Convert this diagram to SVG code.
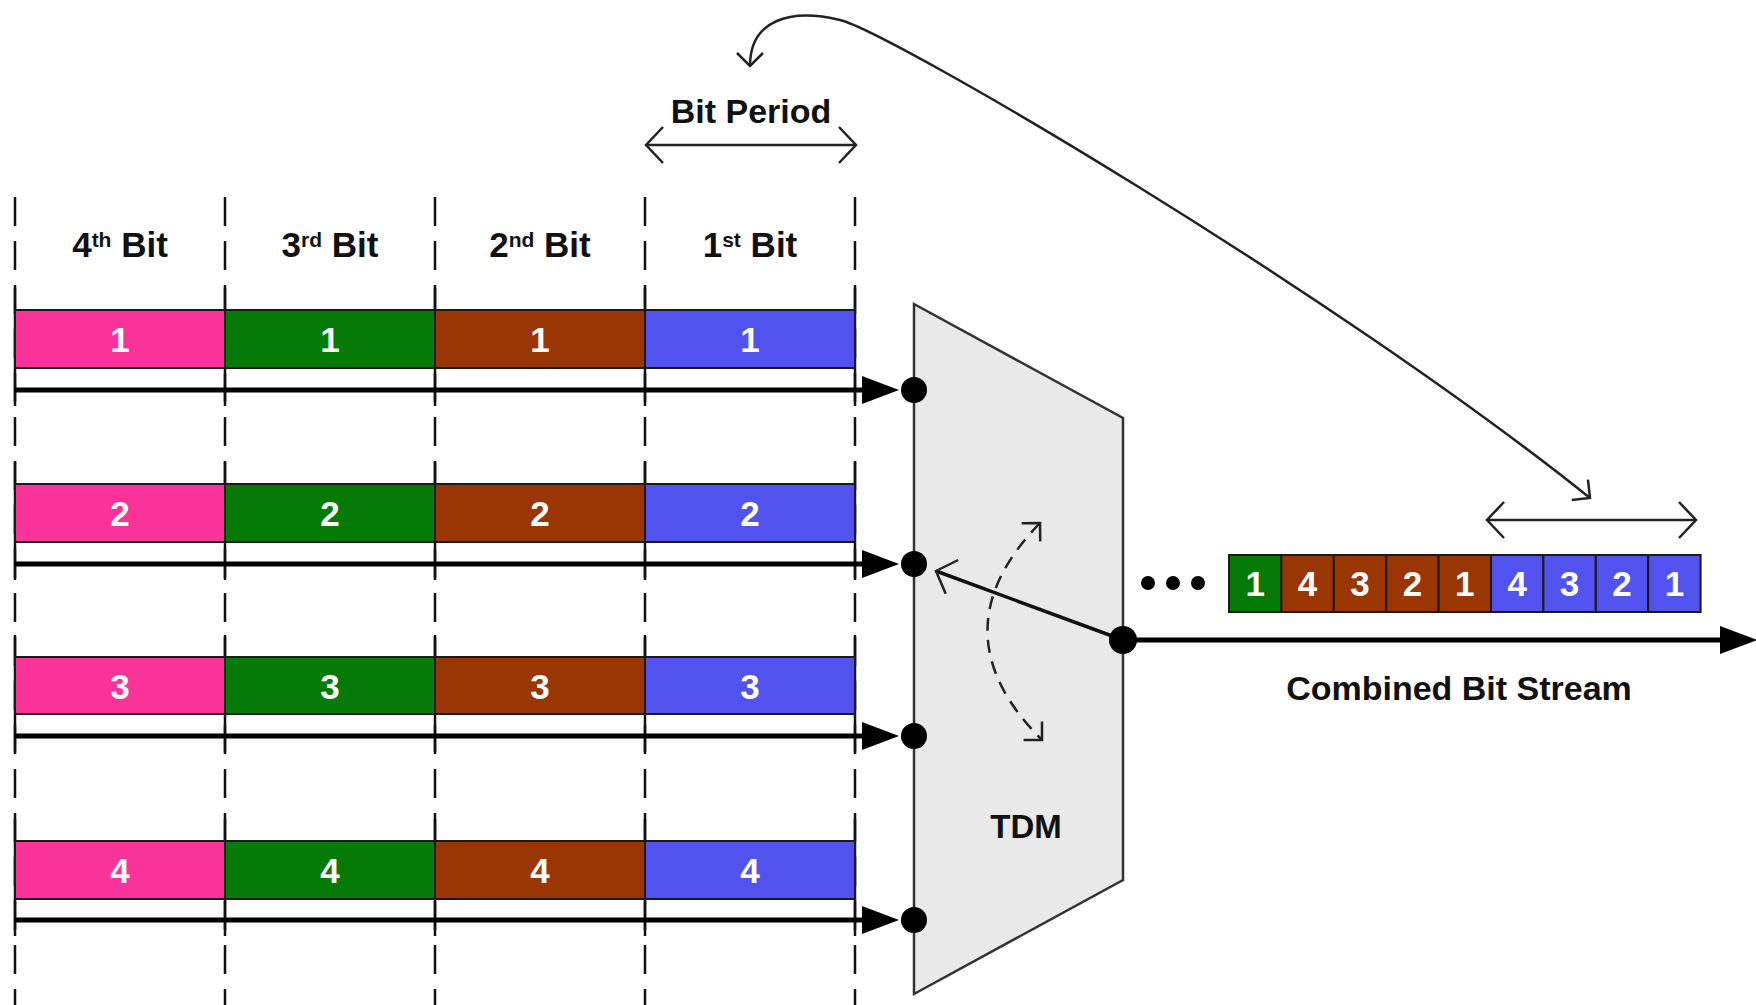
<svg xmlns="http://www.w3.org/2000/svg" width="1756" height="1005" viewBox="0 0 1756 1005">
  <style>
    .lbl { font-family: "Liberation Sans", Arial, sans-serif; font-weight: bold; fill: #111; }
    .num { font-family: "Liberation Sans", Arial, sans-serif; font-weight: bold; fill: #fff; font-size: 35px; text-anchor: middle; }
    .grid { stroke: #111; stroke-width: 2.5; stroke-dasharray: 29 15; fill: none; }
    .tick { stroke: #111; stroke-width: 2.5; fill: none; }
    .cell { stroke: #1a1a1a; stroke-width: 2; }
    .pink { fill: #f9339a; }
    .green { fill: #067a06; }
    .brown { fill: #9a3604; }
    .blue { fill: #5252ee; }
    .feed { stroke: #000; stroke-width: 5; fill: none; marker-end: url(#solidHead); }
    .dot { fill: #000; }
    .thin { stroke: #222; stroke-width: 2.5; fill: none; }
  </style>
  <defs>
    <marker id="solidHead" markerUnits="userSpaceOnUse" viewBox="0 0 37 28" refX="0" refY="14" markerWidth="37" markerHeight="28" orient="auto">
      <path d="M0,0 L37,14 L0,28 z" fill="#000"/>
    </marker>
    <marker id="openHead" markerUnits="userSpaceOnUse" viewBox="-20 -20 24 40" refX="0" refY="0" markerWidth="24" markerHeight="40" orient="auto-start-reverse">
      <path d="M-17,-18 L0,0 L-17,18" fill="none" stroke="#222" stroke-width="2.5"/>
    </marker>
    <marker id="openSmall" markerUnits="userSpaceOnUse" viewBox="-16 -16 20 32" refX="0" refY="0" markerWidth="20" markerHeight="32" orient="auto-start-reverse">
      <path d="M-13,-13 L0,0 L-13,13" fill="none" stroke="#222" stroke-width="2.5"/>
    </marker>
  </defs>

  <rect width="1756" height="1005" fill="#fff"/>

  <!-- bit-slot grid -->
  <g id="grid">
    <line class="grid" x1="15" y1="197" x2="15" y2="1005"/>
    <line class="grid" x1="225" y1="197" x2="225" y2="1005"/>
    <line class="grid" x1="435" y1="197" x2="435" y2="1005"/>
    <line class="grid" x1="645" y1="197" x2="645" y2="1005"/>
    <line class="grid" x1="855" y1="197" x2="855" y2="1005"/>
    <!-- solid ticks through each channel row -->
    <path class="tick" d="M15,288V406 M225,288V406 M435,288V406 M645,288V406 M855,288V406"/>
    <path class="tick" d="M15,462V580 M225,462V580 M435,462V580 M645,462V580 M855,462V580"/>
    <path class="tick" d="M15,635V752 M225,635V752 M435,635V752 M645,635V752 M855,635V752"/>
    <path class="tick" d="M15,819V936 M225,819V936 M435,819V936 M645,819V936 M855,819V936"/>
  </g>

  <!-- column headings -->
  <g id="headings">
    <text class="lbl" x="120" y="257" font-size="35" text-anchor="middle">4<tspan font-size="21" dy="-10">th</tspan><tspan dy="10"> Bit</tspan></text>
    <text class="lbl" x="330" y="257" font-size="35" text-anchor="middle">3<tspan font-size="21" dy="-10">rd</tspan><tspan dy="10"> Bit</tspan></text>
    <text class="lbl" x="540" y="257" font-size="35" text-anchor="middle">2<tspan font-size="21" dy="-10">nd</tspan><tspan dy="10"> Bit</tspan></text>
    <text class="lbl" x="750" y="257" font-size="35" text-anchor="middle">1<tspan font-size="21" dy="-10">st</tspan><tspan dy="10"> Bit</tspan></text>
  </g>

  <!-- bit period marker -->
  <g id="bit-period">
    <text class="lbl" x="751" y="123" font-size="34" text-anchor="middle">Bit Period</text>
    <line class="thin" x1="646" y1="145" x2="856" y2="145" marker-start="url(#openHead)" marker-end="url(#openHead)"/>
  </g>

  <!-- channel 1 -->
  <g id="channel-1">
    <rect class="cell pink" x="15" y="310" width="210" height="58"/>
    <rect class="cell green" x="225" y="310" width="210" height="58"/>
    <rect class="cell brown" x="435" y="310" width="210" height="58"/>
    <rect class="cell blue" x="645" y="310" width="210" height="58"/>
    <text class="num" x="120" y="352">1</text>
    <text class="num" x="330" y="352">1</text>
    <text class="num" x="540" y="352">1</text>
    <text class="num" x="750" y="352">1</text>
  </g>

  <!-- channel 2 -->
  <g id="channel-2">
    <rect class="cell pink" x="15" y="484" width="210" height="58"/>
    <rect class="cell green" x="225" y="484" width="210" height="58"/>
    <rect class="cell brown" x="435" y="484" width="210" height="58"/>
    <rect class="cell blue" x="645" y="484" width="210" height="58"/>
    <text class="num" x="120" y="526">2</text>
    <text class="num" x="330" y="526">2</text>
    <text class="num" x="540" y="526">2</text>
    <text class="num" x="750" y="526">2</text>
  </g>

  <!-- channel 3 -->
  <g id="channel-3">
    <rect class="cell pink" x="15" y="657" width="210" height="57"/>
    <rect class="cell green" x="225" y="657" width="210" height="57"/>
    <rect class="cell brown" x="435" y="657" width="210" height="57"/>
    <rect class="cell blue" x="645" y="657" width="210" height="57"/>
    <text class="num" x="120" y="699">3</text>
    <text class="num" x="330" y="699">3</text>
    <text class="num" x="540" y="699">3</text>
    <text class="num" x="750" y="699">3</text>
  </g>

  <!-- channel 4 -->
  <g id="channel-4">
    <rect class="cell pink" x="15" y="841" width="210" height="58"/>
    <rect class="cell green" x="225" y="841" width="210" height="58"/>
    <rect class="cell brown" x="435" y="841" width="210" height="58"/>
    <rect class="cell blue" x="645" y="841" width="210" height="58"/>
    <text class="num" x="120" y="883">4</text>
    <text class="num" x="330" y="883">4</text>
    <text class="num" x="540" y="883">4</text>
    <text class="num" x="750" y="883">4</text>
  </g>

  <!-- multiplexer body -->
  <g id="tdm">
    <polygon points="914,304 1123,418 1123,880 914,994" fill="#e9e9e9" stroke="#333" stroke-width="2.5"/>
    <text class="lbl" x="1026" y="838" font-size="33" text-anchor="middle">TDM</text>
  </g>

  <!-- connectors -->
  <g id="connectors">
    <line class="feed" x1="15" y1="390" x2="862" y2="390"/>
    <line class="feed" x1="15" y1="564" x2="862" y2="564"/>
    <line class="feed" x1="15" y1="736" x2="862" y2="736"/>
    <line class="feed" x1="15" y1="920" x2="862" y2="920"/>
    <circle class="dot" cx="914" cy="390" r="13"/>
    <circle class="dot" cx="914" cy="564" r="13"/>
    <circle class="dot" cx="914" cy="736" r="13"/>
    <circle class="dot" cx="914" cy="920" r="13"/>

    <!-- rotating switch arm -->
    <line x1="1123" y1="640" x2="936" y2="571" stroke="#111" stroke-width="3.5" marker-end="url(#openHead)"/>
    <path d="M1040,523 Q934,632 1042,740" fill="none" stroke="#222" stroke-width="2.5" stroke-dasharray="13 9" marker-start="url(#openSmall)" marker-end="url(#openSmall)"/>

    <!-- combined output -->
    <line x1="1123" y1="640" x2="1720" y2="640" stroke="#000" stroke-width="5" marker-end="url(#solidHead)"/>
    <circle class="dot" cx="1123" cy="640" r="14"/>

    <!-- frame indicator -->
    <path class="thin" d="M750,66 C750,20 790,8 840,20 C890,32 1330,290 1590,498" marker-start="url(#openSmall)" marker-end="url(#openSmall)"/>
    <line class="thin" x1="1487" y1="520" x2="1696" y2="520" marker-start="url(#openHead)" marker-end="url(#openHead)"/>
  </g>

  <!-- multiplexed stream -->
  <g id="stream">
    <circle class="dot" cx="1148" cy="583" r="7"/>
    <circle class="dot" cx="1173" cy="583" r="7"/>
    <circle class="dot" cx="1198" cy="583" r="7"/>
    <rect class="cell green" x="1229" y="555" width="52.4" height="57"/>
    <rect class="cell brown" x="1281.4" y="555" width="52.4" height="57"/>
    <rect class="cell brown" x="1333.8" y="555" width="52.4" height="57"/>
    <rect class="cell brown" x="1386.2" y="555" width="52.4" height="57"/>
    <rect class="cell brown" x="1438.6" y="555" width="52.4" height="57"/>
    <rect class="cell blue" x="1491" y="555" width="52.4" height="57"/>
    <rect class="cell blue" x="1543.4" y="555" width="52.4" height="57"/>
    <rect class="cell blue" x="1595.8" y="555" width="52.4" height="57"/>
    <rect class="cell blue" x="1648.2" y="555" width="52.4" height="57"/>
    <text class="num" x="1255.2" y="596">1</text>
    <text class="num" x="1307.6" y="596">4</text>
    <text class="num" x="1360" y="596">3</text>
    <text class="num" x="1412.4" y="596">2</text>
    <text class="num" x="1464.8" y="596">1</text>
    <text class="num" x="1517.2" y="596">4</text>
    <text class="num" x="1569.6" y="596">3</text>
    <text class="num" x="1622" y="596">2</text>
    <text class="num" x="1674.4" y="596">1</text>
    <text class="lbl" x="1459" y="700" font-size="34" text-anchor="middle">Combined Bit Stream</text>
  </g>
</svg>
